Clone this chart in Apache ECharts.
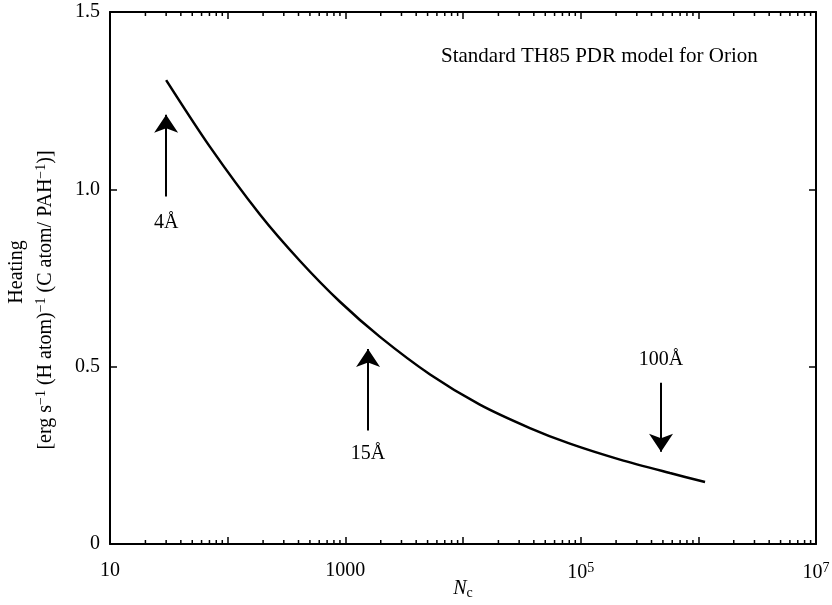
<!DOCTYPE html>
<html><head><meta charset="utf-8">
<script src="https://cdn.jsdelivr.net/npm/echarts@6/dist/echarts.min.js"></script>
<style>html,body{margin:0;padding:0;background:#fff}#c{width:832px;height:605px}</style>
</head><body><div id="c"></div>
<script>
// Curve data
const ncValues = [30, 71, 188, 412, 900, 1970, 5250, 13900, 37000, 81000, 216000, 574000, 1140000];
const heating = [1.308, 1.119, 0.929, 0.798, 0.683, 0.584, 0.478, 0.393, 0.327, 0.283, 0.238, 0.200, 0.175];

// Arrows (size markers)
const arrowNc = [30, 1560, 482000];
const arrowFrom = [0.98, 0.32, 0.455];
const arrowTo = [1.21, 0.55, 0.26];
const arrowLabels = ['4Å', '15Å', '100Å'];
const arrowLabelY = [0.905, 0.255, 0.52];

// Axis ticks/labels
const xMin = 10, xMax = 1e7;
const yMin = 0, yMax = 1.5, yStep = 0.5;
const xLabelExp = [1, 3, 5, 7];
const xLabelText = ['10', '1000', '{b|10}{s|5}', '{b|10}{s|7}'];
const minorMultipliers = [2, 3, 4, 5, 6, 7, 8, 9];
const decades = [10, 100, 1000, 1e4, 1e5, 1e6];

const minorTicks = [];
decades.forEach(d => minorMultipliers.forEach(m => minorTicks.push([d * m, 0])));

const FONT = "'Liberation Serif', 'Times New Roman', serif";

const chart = echarts.init(document.getElementById('c'));
const axisCommon = {
  axisLine: { show: true, onZero: false, lineStyle: { color: '#000', width: 2 } },
  axisTick: { show: true, inside: true, length: 7, lineStyle: { color: '#000', width: 1.5 } },
  splitLine: { show: false }
};
chart.setOption({
  animation: false,
  backgroundColor: '#fff',
  grid: { left: 110, right: 16, top: 12, bottom: 61, containLabel: false, outerBoundsMode: 'none' },
  xAxis: [
    Object.assign({
      type: 'log', logBase: 10, min: xMin, max: xMax, interval: 1, position: 'bottom',
      axisLabel: {
        margin: 17, color: '#000', fontFamily: FONT, fontSize: 20,
        formatter: v => {
          const e = Math.round(Math.log10(v));
          const i = xLabelExp.indexOf(e);
          return i >= 0 ? xLabelText[i] : '';
        },
        rich: {
          b: { fontFamily: FONT, fontSize: 20, color: '#000' },
          s: { fontFamily: FONT, fontSize: 14, color: '#000', verticalAlign: 'top', padding: [0, 0, 10, 0] }
        }
      },
      name: '{i|N}{s|c}', nameLocation: 'middle', nameGap: 33, nameMoveOverlap: false,
      nameTextStyle: {
        rich: {
          i: { fontFamily: FONT, fontSize: 20, fontStyle: 'italic', color: '#000' },
          s: { fontFamily: FONT, fontSize: 14, color: '#000', padding: [9, 0, 0, 0] }
        }
      }
    }, axisCommon),
    Object.assign({
      type: 'log', logBase: 10, min: xMin, max: xMax, interval: 1, position: 'top',
      axisLabel: { show: false }
    }, axisCommon)
  ],
  yAxis: [
    Object.assign({
      type: 'value', min: yMin, max: yMax, interval: yStep, position: 'left',
      axisLabel: {
        margin: 10, color: '#000', fontFamily: FONT, fontSize: 20,
        formatter: v => v === 0 ? '0' : v.toFixed(1)
      }
    }, axisCommon),
    Object.assign({
      type: 'value', min: yMin, max: yMax, interval: yStep, position: 'right',
      axisLabel: { show: false }
    }, axisCommon)
  ],
  graphic: [
    {
      type: 'text', x: 17, y: 272, rotation: Math.PI / 2,
      style: { text: 'Heating', font: '20px ' + FONT, fill: '#000', align: 'center', verticalAlign: 'middle' }
    },
    {
      type: 'text', x: 46, y: 300, rotation: Math.PI / 2,
      style: {
        text: '{n|[erg s}{s|−1}{n| (H atom)}{s|−1}{n| (C atom/ PAH}{s|−1}{n|)]}',
        align: 'center', verticalAlign: 'middle',
        rich: {
          n: { fontFamily: FONT, fontSize: 20, fill: '#000', color: '#000' },
          s: { fontFamily: FONT, fontSize: 14, fill: '#000', color: '#000', padding: [0, 0, 9, 0] }
        }
      }
    },
    {
      type: 'text', x: 441, y: 56,
      style: { text: 'Standard TH85 PDR model for Orion', font: '21px ' + FONT, fill: '#000', align: 'left', verticalAlign: 'middle' }
    }
  ],
  series: [
    {
      type: 'line', xAxisIndex: 0, yAxisIndex: 0,
      data: ncValues.map((n, i) => [n, heating[i]]),
      smooth: 0.3, showSymbol: false, symbol: 'none',
      lineStyle: { color: '#000', width: 2.5 }
    },
    {
      type: 'lines', coordinateSystem: 'cartesian2d', xAxisIndex: 0, yAxisIndex: 0,
      symbol: ['none', 'arrow'], symbolSize: [10, 18],
      lineStyle: { color: '#000', width: 2, opacity: 1 },
      data: arrowNc.map((n, i) => ({ coords: [[n, arrowFrom[i]], [n, arrowTo[i]]] }))
    },
    {
      type: 'scatter', xAxisIndex: 0, yAxisIndex: 0, symbolSize: 0,
      itemStyle: { opacity: 1 },
      data: arrowNc.map((n, i) => ({ value: [n, arrowLabelY[i]], name: arrowLabels[i] })),
      label: {
        show: true, position: 'inside', formatter: p => p.name, opacity: 1,
        color: '#000', fontFamily: FONT, fontSize: 20, textBorderWidth: 0
      }
    },
    {
      type: 'custom', xAxisIndex: 0, yAxisIndex: 0,
      data: minorTicks,
      renderItem: (params, api) => {
        const v = api.value(0);
        const b = api.coord([v, yMin]);
        const t = api.coord([v, yMax]);
        const st = { stroke: '#000', lineWidth: 1.5 };
        return {
          type: 'group',
          children: [
            { type: 'line', shape: { x1: b[0], y1: b[1], x2: b[0], y2: b[1] - 4 }, style: st },
            { type: 'line', shape: { x1: t[0], y1: t[1], x2: t[0], y2: t[1] + 4 }, style: st }
          ]
        };
      }
    }
  ]
});
</script></body></html>
